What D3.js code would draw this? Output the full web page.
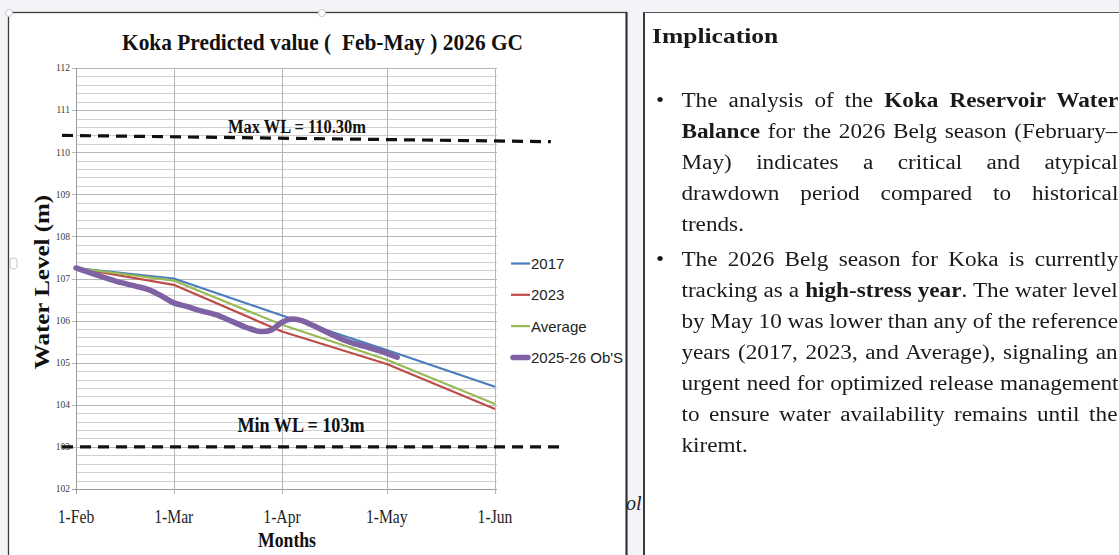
<!DOCTYPE html>
<html>
<head>
<meta charset="utf-8">
<script src="https://cdn.jsdelivr.net/npm/d3@7"></script>
<style>
  body { margin: 0; background: #f3f4f8; width: 1119px; height: 555px; overflow: hidden; position: relative; }
  #chart { position: absolute; left: 0; top: 0; }
  #note { position: absolute; left: 643px; top: 12px; width: 520px; height: 600px; background: #fff;
          border-left: 2px solid #3a3a3a; border-top: 1px solid #555; box-sizing: border-box; }
  #noteText { position: absolute; left: 7px; top: 0; transform-origin: 0 0; transform: scaleX(1.16);
              font-family: "Liberation Serif", "Times New Roman", serif; color: #1a1a1a; }
  .heading { position: absolute; left: 0; font-size: 22px; font-weight: bold; line-height: 30px; white-space: nowrap; }
  .line { position: absolute; font-size: 20px; line-height: 31px; white-space: nowrap; }
  .bullet { position: absolute; font-size: 20px; line-height: 31px; }
</style>
</head>
<body>
<svg id="chart" width="1119" height="555"></svg>
<div id="note"><div id="noteText"></div></div>
<script>
// ---- data ----
const monthDates = ["2026-02-01", "2026-03-01", "2026-04-01", "2026-05-01", "2026-06-01"];
const monthLabels = ["1-Feb", "1-Mar", "1-Apr", "1-May", "1-Jun"];
const wl2017 = [107.25, 107.0, 106.12, 105.3, 104.43];
const wl2023 = [107.25, 106.85, 105.74, 104.97, 103.9];
const wlAverage = [107.25, 106.95, 105.9, 105.07, 104.02];

const obsDates = ["2026-02-01", "2026-02-06", "2026-02-10", "2026-02-14", "2026-02-18", "2026-02-22", "2026-02-26",
  "2026-03-01", "2026-03-05", "2026-03-08", "2026-03-13", "2026-03-18", "2026-03-22", "2026-03-26", "2026-03-29",
  "2026-04-01", "2026-04-04", "2026-04-07", "2026-04-12", "2026-04-16", "2026-04-20", "2026-04-25", "2026-04-29",
  "2026-05-04"];
const obsValues = [107.25, 107.11, 107.0, 106.9, 106.82, 106.73, 106.56,
  106.42, 106.33, 106.25, 106.14, 105.97, 105.83, 105.74, 105.78,
  105.96, 106.04, 105.99, 105.8, 105.64, 105.5, 105.38, 105.28,
  105.13];

const yTicks = [102, 103, 104, 105, 106, 107, 108, 109, 110, 111, 112];
const seriesNames = ["2017", "2023", "Average", "2025-26 Ob'S"];
const seriesColors = ["#4a7ebb", "#be4b48", "#98b954", "#7f62a3"];

const maxLine = { label: "Max WL = 110.30m", dates: ["2026-01-28", "2026-06-17"], values: [110.4, 110.25] };
const minLine = { label: "Min WL = 103m", dates: ["2026-01-28", "2026-06-21"], values: [103, 103] };

const noteHeading = "Implication";
const bullet1 = [
  [["The analysis of the ", 0], ["Koka Reservoir Water", 1]],
  [["Balance", 1], [" for the 2026 Belg season (February–", 0]],
  [["May) indicates a critical and atypical", 0]],
  [["drawdown period compared to historical", 0]],
  [["trends.", 0]]
];
const bullet2 = [
  [["The 2026 Belg season for Koka is currently", 0]],
  [["tracking as a ", 0], ["high-stress year", 1], [". The water level", 0]],
  [["by May 10 was lower than any of the reference", 0]],
  [["years (2017, 2023, and Average), signaling an", 0]],
  [["urgent need for optimized release management", 0]],
  [["to ensure water availability remains until the", 0]],
  [["kiremt.", 0]]
];

// ---- chart ----
const parse = d3.utcParse("%Y-%m-%d");
const svg = d3.select("#chart");
const serif = "'Liberation Serif', 'Times New Roman', serif";

const x = d3.scaleUtc()
  .domain([parse(monthDates[0]), parse(monthDates[monthDates.length - 1])])
  .range([76, 495]);
const y = d3.scaleLinear().domain([102, 112]).range([489, 68]);

function squeeze(sel, k) {
  sel.each(function() {
    const w = this.getComputedTextLength();
    this.setAttribute("textLength", w * k);
    this.setAttribute("lengthAdjust", "spacingAndGlyphs");
  });
}

// chart panel
svg.append("rect")
  .attr("x", 8.5).attr("y", 12.5).attr("width", 618).attr("height", 560)
  .attr("fill", "#fff").attr("stroke", "#3c3c3c").attr("stroke-width", 1.3);
svg.append("line")
  .attr("x1", 626.5).attr("x2", 626.5).attr("y1", 12).attr("y2", 555)
  .attr("stroke", "#2e2e2e").attr("stroke-width", 2);

// stray text peeking between the panels
svg.append("text")
  .attr("x", 626).attr("y", 510)
  .attr("font-family", serif).attr("font-style", "italic").attr("font-size", 20)
  .attr("fill", "#222").text("ol");

// selection handles
[[9, 13], [322, 13]].forEach(p => {
  svg.append("circle").attr("cx", p[0]).attr("cy", p[1]).attr("r", 3.5)
    .attr("fill", "#fff").attr("stroke", "#c8c8c8");
});
svg.append("rect").attr("x", 10).attr("y", 258).attr("width", 7).attr("height", 11).attr("rx", 3)
  .attr("fill", "#fff").attr("stroke", "#c8c8c8");

const g = svg.append("g");

// minor horizontal grid (every 0.2 m)
const minor = d3.range(102.2, 112, 0.2).filter(v => Math.abs(v - Math.round(v)) > 0.01);
g.append("g").selectAll("line").data(minor).join("line")
  .attr("x1", 76).attr("x2", 497)
  .attr("y1", d => Math.round(y(d)) + 0.5).attr("y2", d => Math.round(y(d)) + 0.5)
  .attr("stroke", "#d0d0d0").attr("stroke-width", 1);

// major horizontal grid
g.append("g").selectAll("line").data(yTicks).join("line")
  .attr("x1", 72).attr("x2", 497)
  .attr("y1", d => Math.round(y(d)) + 0.5).attr("y2", d => Math.round(y(d)) + 0.5)
  .attr("stroke", d => d === 102 ? "#9a9a9a" : "#b6b6b6").attr("stroke-width", 1);

// vertical grid + ticks
g.append("g").selectAll("line").data(monthDates).join("line")
  .attr("x1", d => Math.round(x(parse(d))) + 0.5).attr("x2", d => Math.round(x(parse(d))) + 0.5)
  .attr("y1", y(112)).attr("y2", y(102) + 5)
  .attr("stroke", (d, i) => i === 0 ? "#9a9a9a" : "#b6b6b6").attr("stroke-width", 1);

// y tick labels
g.append("g").selectAll("text").data(yTicks).join("text")
  .attr("x", 70).attr("y", d => y(d)).attr("dy", "0.35em")
  .attr("text-anchor", "end")
  .attr("font-family", serif).attr("font-size", 9.5).attr("fill", "#3a3a3a")
  .text(d => d);

// x tick labels
const xl = g.append("g").selectAll("text").data(monthDates).join("text")
  .attr("x", d => x(parse(d))).attr("y", 523)
  .attr("text-anchor", "middle")
  .attr("font-family", serif).attr("font-size", 18).attr("fill", "#1e1e1e")
  .text((d, i) => monthLabels[i]);
squeeze(xl, 0.87);

// reference lines
[maxLine, minLine].forEach(r => {
  g.append("line")
    .attr("x1", x(parse(r.dates[0]))).attr("x2", x(parse(r.dates[1])))
    .attr("y1", y(r.values[0])).attr("y2", y(r.values[1]))
    .attr("stroke", "#111").attr("stroke-width", 3.2).attr("stroke-dasharray", "11,7");
});

g.append("text")
  .attr("x", 297).attr("y", 133).attr("text-anchor", "middle")
  .attr("font-family", serif).attr("font-weight", "bold").attr("font-size", 18).attr("fill", "#111")
  .attr("textLength", 138).attr("lengthAdjust", "spacingAndGlyphs")
  .text(maxLine.label);

g.append("text")
  .attr("x", 301).attr("y", 432).attr("text-anchor", "middle")
  .attr("font-family", serif).attr("font-weight", "bold").attr("font-size", 21).attr("fill", "#111")
  .attr("textLength", 127).attr("lengthAdjust", "spacingAndGlyphs")
  .text(minLine.label);

// series
const monthly = [wl2017, wl2023, wlAverage];
const lineGen = d3.line().x(d => x(d[0])).y(d => y(d[1]));
monthly.forEach((vals, i) => {
  g.append("path")
    .datum(monthDates.map((d, j) => [parse(d), vals[j]]))
    .attr("d", lineGen)
    .attr("fill", "none").attr("stroke", seriesColors[i]).attr("stroke-width", 2.2)
    .attr("stroke-linejoin", "round");
});

g.append("path")
  .datum(obsDates.map((d, j) => [parse(d), obsValues[j]]))
  .attr("d", lineGen.curve(d3.curveCatmullRom.alpha(0.5)))
  .attr("fill", "none").attr("stroke", seriesColors[3]).attr("stroke-width", 5.5)
  .attr("stroke-linecap", "round").attr("stroke-linejoin", "round");

// legend
const legend = g.append("g").selectAll("g").data(seriesNames).join("g")
  .attr("transform", (d, i) => `translate(511,${263.5 + i * 31.3})`);
legend.append("line")
  .attr("x1", (d, i) => i === 3 ? 2 : 0).attr("x2", (d, i) => i === 3 ? 17 : 19)
  .attr("stroke", (d, i) => seriesColors[i])
  .attr("stroke-width", (d, i) => i === 3 ? 5.5 : 2.2)
  .attr("stroke-linecap", (d, i) => i === 3 ? "round" : "butt");
legend.append("text")
  .attr("x", 20).attr("dy", "0.36em")
  .attr("font-family", "'Liberation Sans', Arial, sans-serif").attr("font-size", 15).attr("fill", "#222")
  .text(d => d);

// title
svg.append("text")
  .attr("x", 322.5).attr("y", 50).attr("text-anchor", "middle")
  .style("white-space", "pre")
  .attr("font-family", serif).attr("font-weight", "bold").attr("font-size", 24).attr("fill", "#111")
  .attr("textLength", 401).attr("lengthAdjust", "spacingAndGlyphs")
  .text("Koka Predicted value (  Feb-May ) 2026 GC");

// axis titles
svg.append("text")
  .attr("transform", "translate(49,282) scale(0.86,1) rotate(-90)")
  .attr("text-anchor", "middle")
  .attr("font-family", serif).attr("font-weight", "bold").attr("font-size", 25).attr("fill", "#111")
  .text("Water Level (m)");

svg.append("text")
  .attr("x", 287).attr("y", 547).attr("text-anchor", "middle")
  .attr("font-family", serif).attr("font-weight", "bold").attr("font-size", 20).attr("fill", "#111")
  .attr("textLength", 58).attr("lengthAdjust", "spacingAndGlyphs")
  .text("Months");

// ---- implication panel ----
const note = d3.select("#noteText");
note.append("div").attr("class", "heading").style("top", "7.6px").text(noteHeading);

const lineWidth = (1118 - 681.5) / 1.16;
function addBullet(lines, top) {
  note.append("div").attr("class", "bullet")
    .style("left", "3.4px").style("top", top + "px").text("•");
  lines.forEach((segs, i) => {
    const div = note.append("div").attr("class", "line")
      .style("left", "25.4px").style("top", (top + i * 31) + "px");
    const wrap = div.append("span");
    wrap.selectAll("span").data(segs).join("span")
      .style("font-weight", d => d[1] ? "bold" : null)
      .text(d => d[0]);
    if (i < lines.length - 1) {
      const natural = wrap.node().offsetWidth;
      const gaps = segs.map(s => s[0]).join("").split(" ").length - 1;
      if (gaps > 0) wrap.style("word-spacing", ((lineWidth - natural) / gaps) + "px");
    }
  });
}
addBullet(bullet1, 72.05);
addBullet(bullet2, 231.45);
</script>
</body>
</html>
